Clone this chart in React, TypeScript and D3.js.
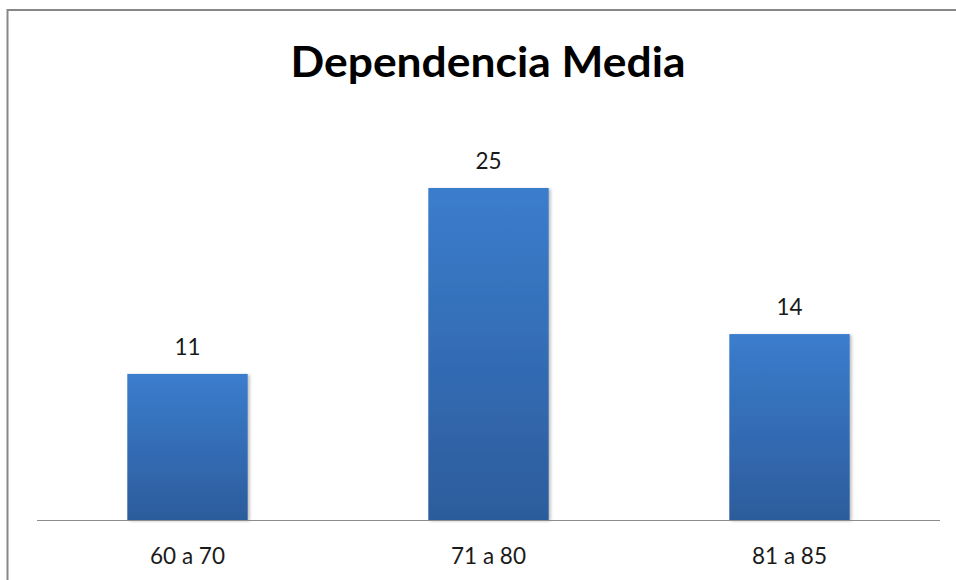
import React from "react";
import * as d3 from "d3";

const categories = ["60 a 70", "71 a 80", "81 a 85"];
const values = [11, 25, 14];
const title = "Dependencia Media";

const W = 956;
const H = 580;
const plot = { left: 37, right: 940, top: 188, bottom: 520 };

export default function App() {
  const x = d3
    .scaleBand<string>()
    .domain(categories)
    .range([plot.left, plot.right])
    .paddingInner(0.6)
    .paddingOuter(0.3);
  const y = d3.scaleLinear().domain([0, 25]).range([plot.bottom, plot.top]);
  const font = "Lato, 'Open Sans', sans-serif";

  return (
    <svg
      width={W}
      height={H}
      style={{ position: "absolute", left: 0, top: 0, background: "#fff" }}
    >
      <defs>
        <linearGradient id="barGrad" x1="0" y1="0" x2="0" y2="1">
          <stop offset="0%" stopColor="#3B7DCD" />
          <stop offset="100%" stopColor="#2C5C9C" />
        </linearGradient>
        <filter id="shadow" x="-10%" y="-10%" width="130%" height="130%">
          <feDropShadow dx="2" dy="1" stdDeviation="1.5" floodColor="#000" floodOpacity="0.25" />
        </filter>
      </defs>
      <rect x={7.5} y={10} width={W + 20} height={H + 20} fill="#fff" stroke="#878787" strokeWidth={2} />
      <text
        x={488}
        y={77}
        textAnchor="middle"
        fontFamily={font}
        fontWeight="bold"
        fontSize={42}
        textLength={395}
        lengthAdjust="spacingAndGlyphs"
        fill="#000"
      >
        {title}
      </text>
      {categories.map((c, i) => (
        <g key={c}>
          <rect
            x={x(c)}
            y={y(values[i])}
            width={x.bandwidth()}
            height={y(0) - y(values[i])}
            fill="url(#barGrad)"
            filter="url(#shadow)"
          />
          <text
            x={(x(c) as number) + x.bandwidth() / 2}
            y={y(values[i]) - 19}
            textAnchor="middle"
            fontFamily={font}
            fontSize={22.5}
            fill="#1a1a1a"
          >
            {values[i]}
          </text>
          <text
            x={(x(c) as number) + x.bandwidth() / 2}
            y={564}
            textAnchor="middle"
            fontFamily={font}
            fontSize={22.5}
            fill="#1a1a1a"
          >
            {c}
          </text>
        </g>
      ))}
      <line x1={plot.left} x2={plot.right} y1={520.5} y2={520.5} stroke="#8c8c8c" strokeWidth={1.2} />
    </svg>
  );
}
